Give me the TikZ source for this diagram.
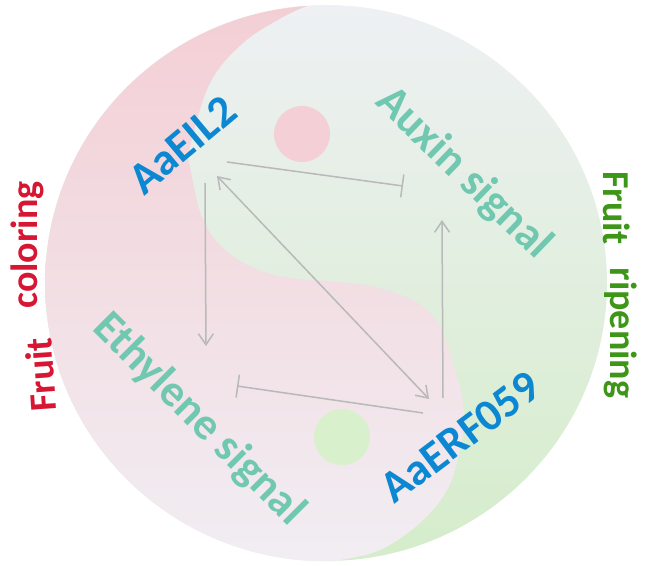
\documentclass[tikz,border=0pt]{standalone}
\usepackage{fontspec}
\setmainfont{Carlito}
\usepackage{tikz}
\usetikzlibrary{arrows.meta}

\definecolor{geneblue}{RGB}{12,135,210}
\definecolor{signalteal}{RGB}{112,200,176}
\definecolor{colorred}{RGB}{214,22,50}
\definecolor{ripegreen}{RGB}{62,150,24}
\definecolor{linkgray}{RGB}{185,185,185}
\definecolor{pinktop}{RGB}{243,207,213}
\definecolor{pinkbot}{RGB}{241,238,243}
\definecolor{greentop}{RGB}{238,240,243}
\definecolor{greenbot}{RGB}{213,237,203}
\definecolor{pinkdot}{RGB}{244,208,214}
\definecolor{greendot}{RGB}{217,240,204}

\tikzset{
  gene/.style={font=\fontsize{45}{50}\selectfont\bfseries, text=geneblue,
    anchor=base, inner sep=0pt},
  signal/.style={gene, text=signalteal},
  trait/.style={font=\fontsize{38}{42}\selectfont\bfseries, anchor=base, inner sep=0pt},
  linkline/.style={draw=linkgray, line width=1.5pt},
  actarrow/.style={linkline, -{Straight Barb[length=11pt,width=15pt]}},
  duoarrow/.style={linkline, {Straight Barb[length=11pt,width=15pt]}-{Straight Barb[length=11pt,width=15pt]}},
  inharrow/.style={linkline, -{Bar[width=23pt]}},
}

\begin{document}
\begin{tikzpicture}[x=1pt, y=1pt]
  \useasboundingbox (0,0) rectangle (650,565);

  % Yin-yang background
  \shade[top color=greentop, bottom color=greenbot] (326,282) ellipse[x radius=281, y radius=278];
  \shade[top color=pinktop, bottom color=pinkbot]
    (307,559) arc[start angle=93.9, end angle=272.9, x radius=281, y radius=278]
    -- plot[smooth, tension=.6] coordinates {(340,5) (380,15) (420,42) (447,75)
      (460,115) (464,150) (457,188) (432,250) (375,278) (267,292) (210,332)
      (190,398) (190,418) (210,482) (243,522) (283,548) (307,559)} -- cycle;
  \fill[pinkdot] (302,431) circle[radius=28];
  \fill[greendot] (342,128) circle[radius=28];

  % Define nodes
  \node[gene, rotate=40]    (eil) at (192,409) {AaEIL2};
  \node[gene, rotate=37]    (erf) at (469,116) {AaERF059};
  \node[signal, rotate=-44] (aux) at (455,383) {Auxin signal};
  \node[signal, rotate=-45] (eth) at (190,137) {Ethylene signal};

  \node[trait, text=colorred, rotate=94]   (cfruit) at (54,191)  {Fruit};
  \node[trait, text=colorred, rotate=90]   (color)  at (37,320)  {coloring};
  \node[trait, text=ripegreen, rotate=-90] (rfruit) at (603,357) {Fruit};
  \node[trait, text=ripegreen, rotate=-90] (ripe)   at (610,232) {ripening};

  % Connector ends
  \coordinate (eil-s) at (205,382);
  \coordinate (eil-e) at (227,403);
  \coordinate (eil-d) at (217,389);
  \coordinate (eth-n) at (206,219);
  \coordinate (eth-e) at (237,179);
  \coordinate (aux-w) at (403,379);
  \coordinate (aux-s) at (442,345);
  \coordinate (erf-n) at (443,167);
  \coordinate (erf-w) at (423,152);
  \coordinate (erf-d) at (429,166);

  % Connect the nodes
  \draw[actarrow] (eil-s) -- (eth-n);
  \draw[inharrow] (eil-e) -- (aux-w);
  \draw[duoarrow] (eil-d) -- (erf-d);
  \draw[actarrow] (erf-n) -- (aux-s);
  \draw[inharrow] (erf-w) -- (eth-e);
\end{tikzpicture}
\end{document}
